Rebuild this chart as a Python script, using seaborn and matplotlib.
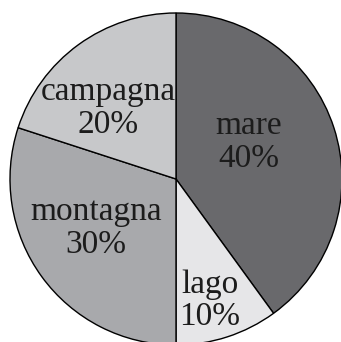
import matplotlib
matplotlib.use("Agg")
import matplotlib.pyplot as plt
import seaborn as sns

# Holiday destination shares
categories = ["mare", "lago", "montagna", "campagna"]
shares = [40, 10, 30, 20]
colors = ["#69696c", "#e6e6e8", "#a8a9ac", "#c7c8ca"]

sns.set_theme(style="white")
plt.rcParams["font.family"] = ["Liberation Serif", "DejaVu Serif"]

fig = plt.figure(figsize=(3.41, 3.42), dpi=100)
ax = fig.add_axes([0, 0, 1, 1])

wedges, _ = ax.pie(
    shares,
    colors=colors,
    startangle=90,
    counterclock=False,
    radius=1.0,
    wedgeprops=dict(edgecolor="black", linewidth=1.0),
)

# label anchor points inside each wedge
label_pos = {
    "mare": (0.440, 0.222),
    "lago": (0.205, -0.733),
    "montagna": (-0.482, -0.296),
    "campagna": (-0.410, 0.427),
}
for cat, val in zip(categories, shares):
    x, y = label_pos[cat]
    ax.text(x, y, f"{cat}\n{val}%", ha="center", va="center",
            fontsize=24, color="#1c1c1c", linespacing=1.08)

ax.set_xlim(-176 / 166, (341 - 176) / 166)
ax.set_ylim((179 - 342) / 166, 179 / 166)
ax.set_aspect("auto")
ax.axis("off")

fig.savefig("out.png", dpi=100, facecolor="white")
